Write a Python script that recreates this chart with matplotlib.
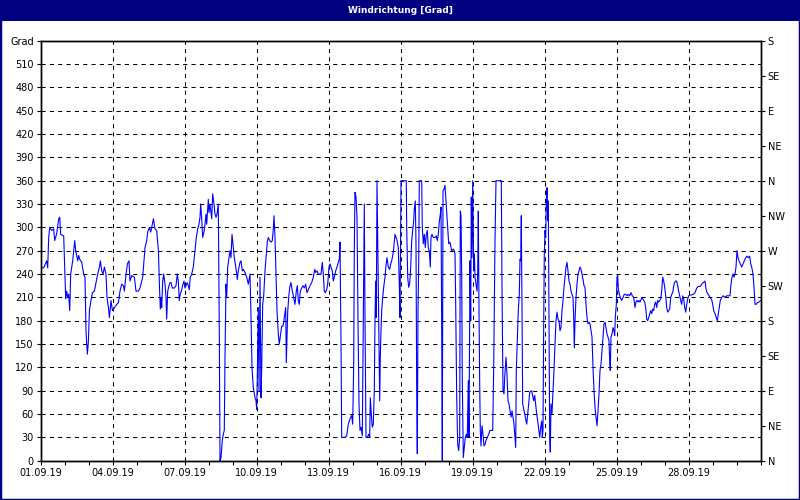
import numpy as np
import matplotlib.pyplot as plt
from matplotlib.patches import Rectangle

# Windrichtung, Stunden ab 01.09.19 00:00 und Grad
stunden = [
    0, 3, 6, 7, 8, 9, 11, 13, 14, 16, 18, 19, 20, 23, 24, 25, 26, 27, 28, 29,
    30, 32, 33, 34, 35, 37, 38, 39, 41, 43, 44.3, 45.3, 46, 46.7, 47.7, 48.7, 50.3, 51.7, 53.7, 55,
    57, 58.7, 59.7, 61, 62.3, 63.7, 65.3, 66.3, 67.7, 68.7, 70.3, 71.7, 73.3, 76, 77.7, 79.3, 81, 82.7, 83.7, 85,
    86.7, 88.3, 89.3, 91, 93.7, 95.3, 97.7, 99.3, 101, 102, 103, 104.3, 106, 107, 108.7, 110, 111, 112.7, 114.3, 116,
    117.7, 118.7, 119.6, 120.3, 121, 122, 123, 124.3, 125.3, 126, 127, 128.3, 129.3, 130.3, 131.6, 133.6, 135.3, 136.6, 137.6, 138.6,
    139.6, 141, 142.3, 143.3, 144.3, 145.3, 146.6, 147.6, 148.6, 149.6, 151, 152.6, 154.3, 155.6, 157, 158.3, 159.3, 160, 161, 162,
    163.3, 164.3, 165.3, 166, 167.6, 168.3, 169.3, 171, 172, 173.3, 174.3, 175.3, 176.3, 177.6, 178.6, 179.3, 180.3, 181.6, 182.6, 183.6,
    184.3, 185.3, 186, 187, 188.3, 189.3, 190.3, 191.3, 192.6, 193.6, 194.6, 195.6, 196.6, 197.6, 199.3, 200.3, 201.6, 202.6, 204.3, 206,
    207.6, 209.3, 210.3, 211.3, 212.6, 214.3, 215.3, 216, 216.6, 217.6, 218.3, 219.3, 220.3, 221, 222, 223, 224.3, 225.3, 226.6, 227.6,
    229, 230.3, 231.6, 232.6, 233.3, 234.3, 235.3, 236.3, 237.6, 238.6, 239.6, 241, 242.3, 243.6, 245, 245.6, 246.3, 247, 248, 249,
    250.3, 251.6, 253, 254.3, 255.6, 256.6, 257.6, 258.6, 259.6, 261, 262.3, 263.6, 265, 266.3, 267.6, 269.3, 271, 272.6, 274, 275,
    276.3, 277.6, 280.3, 281.6, 282.6, 283.6, 284.6, 286, 287, 288.3, 289.3, 290.3, 291.6, 292.6, 293.6, 295, 296.3, 297.6, 298.6, 299.3,
    300.3, 301, 302.6, 304.3, 306, 307.6, 309.3, 311, 312, 313, 313.6, 314.3, 315.3, 316.3, 317.3, 318.3, 319.3, 320.3, 321.6, 322.6,
    323.6, 324.3, 325.3, 326.6, 328, 329, 329.6, 330.6, 331.6, 332.6, 333.6, 334.3, 335, 335.6, 336.3, 337, 337.6, 338.3, 339, 339.6,
    340.3, 341, 342, 343, 344.3, 345.3, 346.3, 347.6, 349, 350, 351, 352.6, 354.3, 356, 357.6, 358.6, 359.3, 360.3, 365.6, 366,
    367, 368, 369, 370, 371, 372, 373, 373.6, 374.6, 375.3, 376, 376.6, 377.3, 378, 378.6, 381, 381.6, 382.6, 383.6, 384.6,
    385.6, 386.6, 387.6, 388.6, 389.6, 390.3, 391.3, 392.6, 394.3, 395.6, 396.6, 397.6, 398.6, 399.6, 400.3, 401, 401.6, 402.3, 403.3, 404.3,
    405.3, 406, 407, 408, 409.3, 411, 412.6, 413.6, 414.3, 415, 416, 417, 418, 419, 419.6, 420.3, 421, 421.6, 422.6, 423.6,
    424.6, 425.6, 426.6, 427.6, 428.3, 429.3, 430, 430.6, 431.3, 432, 433, 433.6, 434.3, 435.3, 436.3, 437, 437.6, 438.3, 439, 439.6,
    440.3, 441.3, 442.3, 443.3, 444.3, 445.3, 446.6, 448, 449.3, 452, 453, 454.3, 455.3, 460.6, 461.3, 462.3, 463.3, 464, 465.3, 466.3,
    467.3, 468.3, 469.3, 470.3, 471.3, 472.3, 473.3, 474.3, 475, 475.6, 476.6, 477.6, 478.6, 479.3, 480, 480.6, 481.3, 482, 484, 486,
    488, 489, 491, 493, 494, 496, 497, 499, 500, 501, 501.6, 502.3, 503, 503.6, 504.3, 505, 505.6, 506.3, 507, 507.6,
    508.3, 509, 509.6, 510.3, 511.3, 512.3, 513.3, 514.3, 515.3, 516.3, 517.3, 518.3, 519.3, 520.3, 521.3, 522.3, 523.3, 524.3, 525.3, 526.3,
    527.3, 528.3, 529.3, 530.3, 531.3, 532.3, 533, 533.6, 534.3, 535.3, 536.3, 537.3, 538.3, 539.3, 540.3, 541.3, 542.3, 543.3, 544.3, 545.3,
    546.3, 547.3, 548.3, 549.3, 550.3, 551.3, 552.3, 553.3, 554.3, 555.3, 556.3, 557.3, 558.3, 559.3, 560.3, 561.3, 562.3, 563.3, 564.3, 565.3,
    566.3, 567.3, 568.3, 569, 569.6, 570.3, 571.3, 572.3, 573.3, 574, 574.6, 575.6, 576.3, 577, 577.6, 578.6, 579.6, 581, 582.3, 583.6,
    585, 586.3, 587.6, 589, 590.3, 591.6, 593, 594.3, 595.3, 596.3, 597.3, 598.3, 599.3, 600.3, 601.3, 602.6, 604, 605, 606, 607,
    608, 609, 610, 611, 612, 613, 614, 615, 616, 617, 618, 619, 620, 621, 622, 623, 624, 625, 626, 627,
    628, 629, 630, 631, 632, 633, 634, 635, 636, 637, 638, 639, 640, 641, 642, 643, 644, 645, 646, 647,
    648, 649.3, 651, 652.6, 654.3, 656, 657.6, 659.3, 661, 662.6, 664.3, 665.3, 666.3, 667.6, 669.3, 671, 672, 673, 674.3, 675.6,
    676.6, 677.6, 678.6, 679.6, 681, 682.6, 684.3, 686, 687.6, 689.3, 690.3, 691.3, 692.3, 693.3, 694.3, 695.3, 696.3, 697.3, 698.3, 699.6,
    701, 702.3, 703.6, 705, 706.3, 707.6, 709, 710, 711, 712.3, 713.3, 714.3, 715.3, 716.6, 718.3, 720,
]
grad = [
    248, 248, 257, 248, 287, 300, 296, 298, 283, 292, 311, 313, 291, 289, 249, 208, 218, 210, 214, 193,
    240, 257, 270, 283, 270, 257, 264, 259, 255, 240, 236, 167, 150, 137, 154, 193, 206, 216, 218, 227,
    240, 249, 257, 244, 240, 249, 240, 210, 197, 184, 206, 193, 196, 201, 203, 218, 227, 225, 218, 236,
    253, 257, 231, 238, 236, 218, 218, 222, 231, 236, 253, 274, 283, 294, 300, 294, 300, 311, 298, 296,
    270, 227, 195, 210, 197, 231, 240, 227, 210, 182, 218, 225, 229, 229, 222, 222, 225, 240, 231, 206,
    214, 220, 227, 231, 222, 225, 229, 225, 220, 236, 240, 249, 270, 287, 298, 304, 313, 330, 311, 287,
    294, 304, 317, 304, 336, 319, 330, 311, 343, 330, 317, 313, 317, 330, 165, 0, 4, 26, 34, 39,
    133, 227, 210, 249, 261, 270, 261, 291, 274, 261, 253, 244, 233, 244, 255, 257, 244, 246, 242, 236,
    227, 240, 186, 120, 94, 81, 77, 66, 107, 197, 90, 236, 81, 120, 201, 212, 244, 261, 281, 287,
    283, 281, 283, 298, 315, 287, 240, 193, 163, 150, 160, 173, 173, 184, 197, 126, 160, 191, 210, 223,
    229, 218, 210, 201, 218, 225, 206, 201, 218, 222, 225, 222, 227, 216, 220, 225, 229, 236, 246, 242,
    244, 240, 240, 255, 240, 218, 216, 220, 227, 249, 253, 249, 244, 231, 236, 244, 249, 255, 259, 281,
    154, 30, 30, 30, 32, 47, 54, 58, 47, 124, 270, 345, 339, 313, 180, 73, 39, 43, 32, 180,
    330, 180, 30, 30, 34, 30, 81, 60, 43, 47, 90, 180, 231, 184, 360, 287, 231, 150, 77, 133,
    167, 193, 210, 223, 236, 251, 261, 249, 246, 253, 257, 268, 291, 285, 274, 227, 184, 360, 360, 300,
    236, 223, 227, 249, 283, 296, 309, 324, 334, 279, 90, 9, 193, 253, 360, 360, 300, 279, 291, 274,
    291, 296, 274, 270, 249, 287, 291, 287, 287, 289, 283, 291, 307, 317, 326, 169, 0, 347, 349, 354,
    334, 321, 300, 279, 281, 270, 272, 270, 266, 201, 81, 21, 13, 30, 321, 315, 240, 103, 4, 17,
    30, 34, 30, 103, 30, 257, 180, 339, 261, 360, 244, 266, 236, 227, 218, 240, 321, 193, 99, 39,
    19, 45, 34, 19, 21, 26, 30, 34, 39, 39, 120, 283, 360, 360, 223, 90, 86, 107, 133, 111,
    77, 73, 64, 56, 64, 56, 47, 30, 17, 116, 154, 193, 214, 259, 257, 315, 184, 73, 60, 47,
    73, 88, 90, 77, 84, 60, 51, 30, 43, 51, 30, 39, 176, 266, 296, 287, 330, 351, 309, 334,
    193, 30, 11, 73, 60, 90, 116, 150, 180, 191, 182, 180, 167, 171, 193, 206, 223, 236, 249, 255,
    244, 231, 227, 218, 214, 210, 184, 145, 180, 210, 227, 240, 244, 249, 246, 240, 233, 225, 223, 201,
    184, 176, 178, 176, 167, 159, 120, 90, 69, 56, 45, 64, 86, 116, 124, 141, 159, 176, 178, 171,
    163, 159, 154, 129, 116, 159, 163, 171, 167, 161, 184, 201, 236, 238, 221, 214, 210, 206, 210, 214,
    214, 212, 214, 212, 216, 212, 210, 197, 204, 206, 204, 206, 204, 207, 210, 207, 204, 197, 182, 180,
    184, 189, 193, 189, 195, 193, 201, 204, 197, 206, 204, 206, 208, 218, 236, 231, 223, 212, 197, 191,
    193, 195, 210, 214, 216, 225, 229, 231, 231, 225, 218, 212, 206, 201, 212, 208, 197, 191, 201, 208,
    212, 213, 213, 214, 216, 222, 224, 224, 227, 229, 231, 221, 216, 214, 210, 207, 201, 193, 189, 184,
    180, 189, 199, 206, 210, 212, 210, 212, 212, 212, 227, 236, 240, 236, 240, 249, 270, 261, 257, 253,
    249, 253, 257, 261, 263, 261, 263, 253, 249, 240, 223, 201, 201, 203, 204, 206,
]

datum_labels = ['01.09.19', '04.09.19', '07.09.19', '10.09.19', '13.09.19',
                '16.09.19', '19.09.19', '22.09.19', '25.09.19', '28.09.19']
grad_ticks = list(range(0, 541, 30))
grad_labels = [str(g) for g in grad_ticks[:-1]] + ['Grad']
richtung_ticks = list(range(0, 541, 45))
richtung_labels = ['N', 'NE', 'E', 'SE', 'S', 'SW', 'W', 'NW', 'N', 'NE', 'E', 'SE', 'S']

plt.rcParams['font.family'] = 'DejaVu Sans'
fig = plt.figure(figsize=(8, 5), dpi=100)
fig.patch.set_facecolor('white')

# Titelleiste und Rahmen
fig.patches.append(Rectangle((0, 1 - 21 / 500), 1, 21 / 500, transform=fig.transFigure,
                             facecolor='#000080', edgecolor='none', zorder=0))
fig.patches.append(Rectangle((0, 0), 1, 1, transform=fig.transFigure,
                             facecolor='none', edgecolor='#000080', linewidth=2.5, zorder=0))
fig.text(0.5, 1 - 10.5 / 500, 'Windrichtung [Grad]', color='white', fontsize=6.5,
         fontweight='bold', ha='center', va='center')

ax = fig.add_axes([40.7 / 800, 39.3 / 500, 720 / 800, 420 / 500])
ax.plot(stunden, grad, color='#0000FF', linewidth=0.8)

ax.set_xlim(0, 720)
ax.set_ylim(0, 540)
ax.set_xticks(np.arange(len(datum_labels)) * 72)
ax.set_xticklabels(datum_labels)
ax.set_xticks(np.arange(0, 721, 24), minor=True)
ax.set_yticks(grad_ticks)
ax.set_yticklabels(grad_labels)

ax.grid(True, which='major', color='black', linestyle=(0, (4, 4)), linewidth=0.75)
ax.tick_params(which='both', direction='out', length=3, width=0.8, labelsize=7, pad=2)
for s in ax.spines.values():
    s.set_color('black')
    s.set_linewidth(1.0)

ax2 = ax.twinx()
ax2.set_ylim(0, 540)
ax2.set_yticks(richtung_ticks)
ax2.set_yticklabels(richtung_labels)
ax2.tick_params(direction='out', length=3, width=0.8, labelsize=7, pad=2)
for s in ax2.spines.values():
    s.set_color('black')
    s.set_linewidth(1.0)

fig.savefig('out.png', dpi=100)
